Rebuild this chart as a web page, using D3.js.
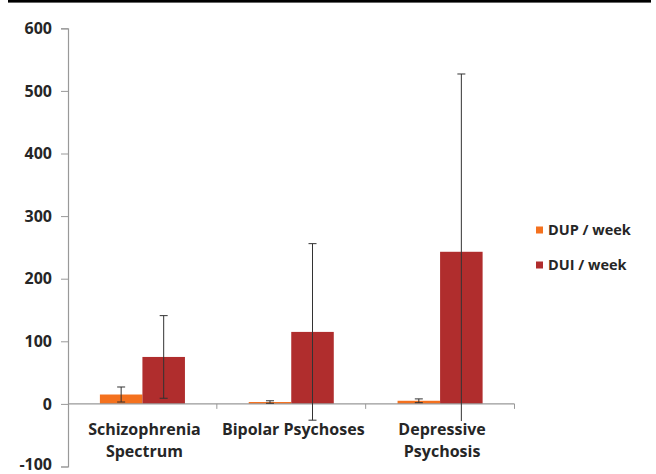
<!DOCTYPE html>
<html>
<head>
<meta charset="utf-8">
<script src="https://cdn.jsdelivr.net/npm/d3@7"></script>
<style>
  html, body { margin: 0; padding: 0; background: #fff; }
  svg { display: block; }
  text { font-family: "Open Sans", Lato, sans-serif; font-weight: bold; fill: #262626; }
</style>
</head>
<body>
<svg id="chart" width="656" height="474"></svg>
<script>
// Categories and series
const categories = ["Schizophrenia Spectrum", "Bipolar Psychoses", "Depressive Psychosis"];
const categoryLines = [["Schizophrenia", "Spectrum"], ["Bipolar Psychoses"], ["Depressive", "Psychosis"]];
const seriesNames = ["DUP / week", "DUI / week"];
const dupMean = [15, 3, 5];
const dupSD = [12, 2, 3];
const duiMean = [75, 115, 243];
const duiSD = [66, 141, 284];
const yTicks = [-100, 0, 100, 200, 300, 400, 500, 600];
const colors = ["#F4711E", "#B02D2D"];

const svg = d3.select("#chart");

// Top rule
svg.append("rect").attr("x", 8).attr("y", 0).attr("width", 643).attr("height", 2.6).attr("fill", "#000");

const y = d3.scaleLinear().domain([-100, 600]).range([466.5, 28.3]);
const x = d3.scaleBand().domain(categories).range([68, 514.5]).paddingInner(0).paddingOuter(0);
const xs = d3.scaleBand().domain(seriesNames).range([0, x.bandwidth()]).paddingInner(0).paddingOuter(0.75);

const rows = categories.map((c, i) => [
  { cat: c, s: seriesNames[0], v: dupMean[i], e: dupSD[i], col: colors[0] },
  { cat: c, s: seriesNames[1], v: duiMean[i], e: duiSD[i], col: colors[1] }
]).flat();

// Y axis
const yAxis = d3.axisLeft(y).tickValues(yTicks).tickSize(7).tickPadding(9).tickFormat(d => String(d));
const gy = svg.append("g").attr("transform", "translate(68,0)").call(yAxis);
gy.select(".domain").attr("stroke", "#999").attr("stroke-width", 1.2);
gy.selectAll(".tick line").attr("stroke", "#999");
gy.selectAll(".tick text").attr("font-size", 16).attr("fill", "#262626")
  .attr("dy", d => d === -100 ? "0.18em" : "0.32em")
  .style("font-family", "'Open Sans', sans-serif").style("font-weight", "bold");

// Bars
svg.append("g").selectAll("rect").data(rows).join("rect")
  .attr("x", d => x(d.cat) + xs(d.s))
  .attr("width", xs.bandwidth())
  .attr("y", d => y(Math.max(0, d.v)))
  .attr("height", d => Math.abs(y(d.v) - y(0)))
  .attr("fill", d => d.col);

// X axis at zero
const gx = svg.append("g").attr("transform", `translate(0,${y(0)})`);
gx.append("line").attr("x1", 68).attr("x2", 514.5).attr("stroke", "#999").attr("stroke-width", 1.2);
const bounds = categories.map(c => x(c) + x.bandwidth());
gx.selectAll("line.tk").data(bounds).join("line").attr("class", "tk")
  .attr("x1", d => d).attr("x2", d => d).attr("y1", 0).attr("y2", 5).attr("stroke", "#999");

// Error bars
const eb = svg.append("g").attr("stroke", "#333").attr("stroke-width", 1);
rows.forEach(d => {
  const cx = x(d.cat) + xs(d.s) + xs.bandwidth() / 2;
  const lo = y(d.v - d.e), hi = y(d.v + d.e);
  eb.append("line").attr("x1", cx).attr("x2", cx).attr("y1", lo).attr("y2", hi);
  eb.append("line").attr("x1", cx - 4).attr("x2", cx + 4).attr("y1", hi).attr("y2", hi);
  eb.append("line").attr("x1", cx - 4).attr("x2", cx + 4).attr("y1", lo).attr("y2", lo);
});

// Category labels
const lab = svg.append("g");
categories.forEach((c, i) => {
  const cx = x(c) + x.bandwidth() / 2 + 2;
  const t = lab.append("text").attr("text-anchor", "middle").attr("font-size", 16);
  categoryLines[i].forEach((ln, j) => {
    t.append("tspan").attr("x", cx).attr("y", 435 + j * 22).text(ln);
  });
  const bb = t.node().getBBox();
  lab.insert("rect", "text").attr("x", bb.x - 1).attr("y", bb.y + 3).attr("width", bb.width + 2)
    .attr("height", bb.height).attr("fill", "#fff");
});

// Legend
const leg = svg.append("g");
seriesNames.forEach((s, i) => {
  const ly = 230 + i * 35;
  leg.append("rect").attr("x", 536).attr("y", ly - 3.5).attr("width", 7).attr("height", 7).attr("fill", colors[i]);
  leg.append("text").attr("x", 548).attr("y", ly + 5).attr("font-size", 14.5).text(s);
});
</script>
</body>
</html>
